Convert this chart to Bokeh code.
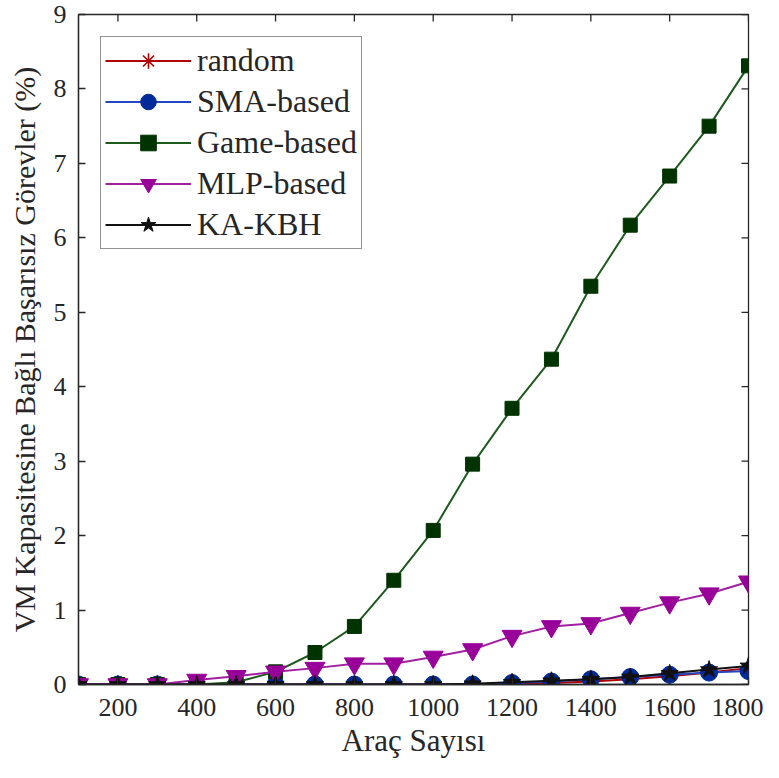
import math
from bokeh.plotting import figure
from bokeh.models import Range1d, FixedTicker, Legend, LegendItem
from bokeh.embed import file_html
from bokeh.resources import INLINE

x = [100, 200, 300, 400, 500, 600, 700, 800, 900, 1000, 1100, 1200, 1300, 1400, 1500, 1600, 1700, 1800]
random_v = [0, 0, 0, 0, 0, 0, 0, 0, 0, 0, 0.0, 0.01, 0.02, 0.04, 0.07, 0.11, 0.16, 0.22]
sma_v = [0, 0, 0, 0, 0, 0, 0, 0, 0, 0, 0.0, 0.02, 0.04, 0.07, 0.10, 0.13, 0.16, 0.18]
game_v = [0, 0, 0, 0, 0.03, 0.17, 0.43, 0.78, 1.40, 2.07, 2.96, 3.71, 4.37, 5.35, 6.17, 6.83, 7.50, 8.31]
mlp_v = [0, 0, 0, 0.06, 0.11, 0.17, 0.22, 0.28, 0.28, 0.37, 0.47, 0.65, 0.78, 0.82, 0.96, 1.10, 1.22, 1.38]
kakbh_v = [0, 0, 0, 0, 0, 0, 0, 0, 0, 0, 0.01, 0.03, 0.05, 0.07, 0.10, 0.15, 0.20, 0.25]

x_ticks = [200, 400, 600, 800, 1000, 1200, 1400, 1600, 1800]
y_ticks = [0, 1, 2, 3, 4, 5, 6, 7, 8, 9]
X_MIN, X_MAX, Y_MIN, Y_MAX = 100, 1800, 0, 9

FONT = "Liberation Serif"
AX = "#262626"

p = figure(width=763, height=770, output_backend="svg", toolbar_location=None,
           x_range=Range1d(X_MIN, X_MAX), y_range=Range1d(Y_MIN, Y_MAX),
           min_border_left=78, min_border_top=14, min_border_right=15, min_border_bottom=86)
p.grid.visible = False
p.outline_line_color = AX
p.outline_line_width = 1.3

for ax in (p.xaxis[0], p.yaxis[0]):
    ax.major_tick_in = 7
    ax.major_tick_out = 0
    ax.minor_tick_in = 0
    ax.minor_tick_out = 0
    ax.axis_line_color = AX
    ax.axis_line_width = 1.3
    ax.major_tick_line_color = AX
    ax.major_tick_line_width = 1.3
    ax.major_label_text_font = FONT
    ax.major_label_text_font_size = "26px"
    ax.major_label_text_color = AX
    ax.axis_label_text_font = FONT
    ax.axis_label_text_font_style = "normal"
    ax.axis_label_text_color = AX

p.xaxis[0].ticker = FixedTicker(ticks=x_ticks)
p.yaxis[0].ticker = FixedTicker(ticks=y_ticks)
p.xaxis[0].axis_label = "Araç Sayısı"
p.yaxis[0].axis_label = "VM Kapasitesine Bağlı Başarısız Görevler (%)"
p.xaxis[0].axis_label_text_font_size = "31px"
p.yaxis[0].axis_label_text_font_size = "30px"
p.xaxis[0].major_label_standoff = 14
p.yaxis[0].major_label_standoff = 12
p.xaxis[0].axis_label_standoff = 4
p.yaxis[0].axis_label_standoff = 10

# inward ticks on the top and right edges (half of each dash falls outside the frame)
p.scatter(x_ticks, [Y_MAX] * len(x_ticks), marker="dash", size=14, angle=math.pi / 2,
          line_color=AX, line_width=1.3)
p.scatter([X_MAX] * len(y_ticks), y_ticks, marker="dash", size=14,
          line_color=AX, line_width=1.3)

series = [
    ("random", random_v, "#b00000", "asterisk", 13, "#b00000"),
    ("SMA-based", sma_v, "#2346c0", "circle", 17, "#002a9a"),
    ("Game-based", game_v, "#1e5a1e", "square", 14, "#003300"),
    ("MLP-based", mlp_v, "#a020a0", "inverted_triangle", 20, "#990099"),
    ("KA-KBH", kakbh_v, "#111111", "star", 18, "#111111"),
]

items = []
for name, vals, lc, mk, sz, mc in series:
    l = p.line(x, vals, line_color=lc, line_width=2)
    s = p.scatter(x, vals, marker=mk, size=sz, fill_color=mc, line_color=mc,
                  line_width=1.6 if mk == "asterisk" else 1)
    items.append(LegendItem(label=name, renderers=[l, s]))

legend = Legend(items=items, location="top_left")
legend.label_text_font = FONT
legend.label_text_font_size = "32px"
legend.label_text_color = AX
legend.glyph_width = 86
legend.glyph_height = 39
legend.label_height = 39
legend.spacing = 2
legend.padding = 4
legend.margin = 22
legend.label_standoff = 6
legend.border_line_color = AX
legend.border_line_width = 1.3
legend.background_fill_alpha = 1
p.add_layout(legend)

open("out.html", "w").write(file_html(p, INLINE))
